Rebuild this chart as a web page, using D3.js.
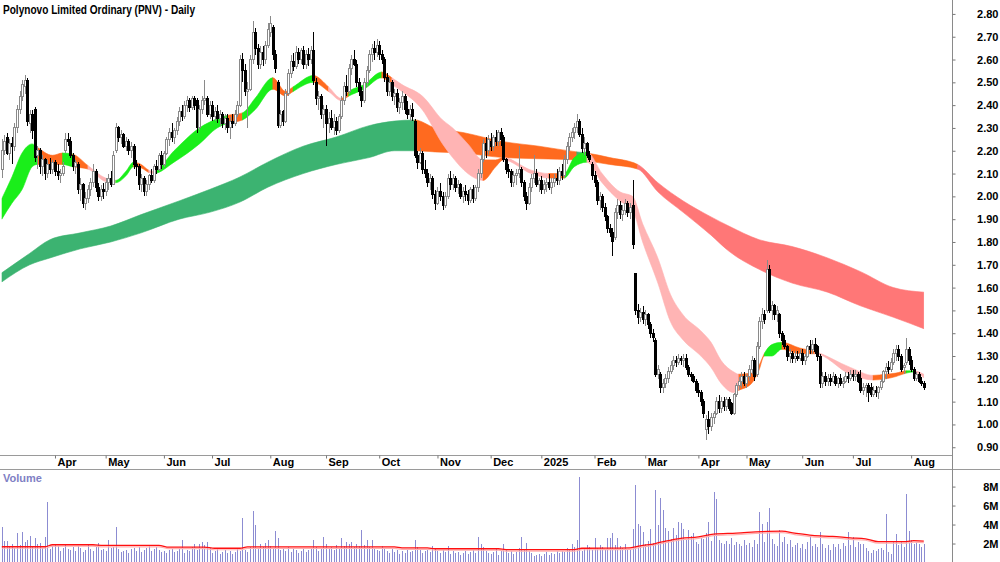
<!DOCTYPE html>
<html><head><meta charset="utf-8">
<script src="https://cdn.jsdelivr.net/npm/d3@7"></script>
<style>html,body{margin:0;padding:0;background:#fff;overflow:hidden}svg{display:block}</style>
</head><body><svg id="c" width="1000" height="562"></svg>
<script>
const chartTitle = "Polynovo Limited Ordinary (PNV) - Daily";
const monthLabels = ["Apr","May","Jun","Jul","Aug","Sep","Oct","Nov","Dec","2025","Feb","Mar","Apr","May","Jun","Jul","Aug"];
const monthStartIdx = [21,41,64,83,106,128,149,172,193,213,234,254,275,294,316,336,359];
const priceTicks = [0.9,1.0,1.1,1.2,1.3,1.4,1.5,1.6,1.7,1.8,1.9,2.0,2.1,2.2,2.3,2.4,2.5,2.6,2.7,2.8];
const volTicks = [2,4,6,8];
const volTickLabels = ["2M","4M","6M","8M"];

// Daily OHLC (trading days 29 Feb 2024 .. 8 Aug 2025)
const openP = [
2.12,2.20,2.26,2.19,2.23,2.22,2.30,2.38,2.44,2.48,2.51,2.32,2.36,2.38,2.18,2.20,2.13,2.16,2.10,2.14,2.12,
2.15,2.11,2.09,2.10,2.20,2.25,2.24,2.18,2.13,2.14,2.03,2.05,1.97,1.99,2.03,2.06,2.11,2.04,2.00,2.03,
2.02,2.06,2.08,2.05,2.20,2.30,2.26,2.27,2.22,2.24,2.20,2.22,2.14,2.13,2.05,2.08,2.02,2.05,2.09,2.07,2.13,2.12,2.18,
2.14,2.19,2.25,2.28,2.26,2.29,2.33,2.37,2.35,2.40,2.42,2.39,2.43,2.42,2.30,2.38,2.42,2.43,2.36,
2.40,2.35,2.37,2.34,2.36,2.32,2.34,2.30,2.33,2.32,2.36,2.40,2.60,2.55,2.46,2.47,2.60,2.72,2.65,2.58,2.63,2.60,2.66,
2.72,2.74,2.62,2.50,2.31,2.37,2.33,2.45,2.54,2.59,2.57,2.63,2.60,2.64,2.58,2.62,2.60,2.64,2.50,2.43,2.44,2.36,
2.38,2.32,2.34,2.30,2.33,2.29,2.35,2.42,2.48,2.46,2.56,2.60,2.58,2.50,2.46,2.42,2.50,2.55,2.62,2.65,2.63,
2.66,2.62,2.60,2.52,2.46,2.50,2.44,2.45,2.39,2.41,2.44,2.38,2.36,2.38,2.33,2.18,2.15,2.19,2.12,2.10,2.06,2.08,2.01,
1.97,2.02,2.00,1.96,2.00,2.08,2.05,2.08,2.04,2.05,2.00,2.02,2.01,1.98,2.03,1.99,2.04,2.10,2.16,2.23,2.20,
2.24,2.22,2.26,2.24,2.28,2.26,2.16,2.12,2.11,2.06,2.09,2.10,2.12,2.06,2.00,1.97,2.04,2.08,2.10,2.05,
2.07,2.03,2.05,2.06,2.04,2.06,2.08,2.07,2.11,2.09,2.16,2.22,2.26,2.28,2.30,2.33,2.27,2.21,2.23,2.18,2.14,
2.09,2.06,1.98,2.00,1.95,1.91,1.86,1.84,1.82,1.93,1.96,1.92,1.94,1.97,1.93,1.96,1.66,1.50,1.47,1.49,
1.46,1.48,1.44,1.40,1.37,1.22,1.22,1.16,1.18,1.20,1.23,1.26,1.28,1.27,1.29,1.28,1.29,1.25,1.22,1.21,1.19,
1.15,1.14,1.10,0.98,1.02,0.99,1.03,1.05,1.10,1.07,1.10,1.08,1.11,1.09,1.05,1.13,1.17,1.19,1.21,
1.18,1.21,1.24,1.28,1.22,1.34,1.45,1.48,1.50,1.68,1.50,1.52,1.48,1.48,1.40,1.37,1.34,1.30,1.31,1.29,1.30,1.29,
1.31,1.28,1.30,1.34,1.33,1.35,1.34,1.30,1.18,1.21,1.19,1.20,1.19,1.21,1.18,1.20,1.18,1.19,1.21,1.20,
1.22,1.21,1.22,1.20,1.15,1.16,1.17,1.16,1.13,1.15,1.14,1.16,1.19,1.23,1.25,1.24,1.27,1.31,1.33,1.30,1.25,1.27,1.33,
1.28,1.24,1.20,1.22,1.19,1.18];
const highP = [
2.25,2.27,2.28,2.25,2.26,2.32,2.40,2.46,2.51,2.53,2.52,2.38,2.38,2.39,2.22,2.21,2.18,2.17,2.16,2.17,2.16,
2.16,2.14,2.12,2.15,2.28,2.28,2.26,2.19,2.16,2.15,2.08,2.06,2.02,2.05,2.08,2.14,2.12,2.06,2.05,2.06,
2.08,2.10,2.11,2.20,2.32,2.31,2.29,2.28,2.26,2.25,2.24,2.23,2.16,2.14,2.10,2.09,2.07,2.10,2.12,2.14,2.16,2.19,2.20,
2.20,2.26,2.30,2.32,2.30,2.35,2.39,2.40,2.42,2.44,2.43,2.44,2.44,2.43,2.40,2.44,2.51,2.44,2.42,
2.42,2.39,2.40,2.38,2.37,2.36,2.36,2.35,2.36,2.38,2.42,2.62,2.63,2.58,2.50,2.62,2.77,2.74,2.67,2.66,2.66,2.68,2.76,
2.79,2.75,2.64,2.51,2.38,2.38,2.47,2.56,2.62,2.63,2.66,2.65,2.65,2.66,2.64,2.65,2.66,2.72,2.52,2.46,2.45,2.40,
2.40,2.37,2.38,2.36,2.35,2.36,2.44,2.50,2.53,2.58,2.62,2.64,2.60,2.52,2.48,2.52,2.57,2.64,2.67,2.68,2.69,
2.68,2.64,2.61,2.54,2.52,2.51,2.47,2.47,2.43,2.46,2.45,2.42,2.40,2.41,2.34,2.20,2.21,2.20,2.16,2.12,2.10,2.09,2.03,
2.04,2.06,2.02,2.02,2.10,2.11,2.10,2.09,2.07,2.06,2.04,2.05,2.03,2.04,2.05,2.05,2.12,2.18,2.25,2.26,2.27,
2.28,2.27,2.29,2.29,2.30,2.27,2.17,2.14,2.12,2.11,2.12,2.22,2.13,2.07,2.02,2.06,2.10,2.18,2.12,2.08,
2.09,2.07,2.08,2.10,2.08,2.10,2.12,2.13,2.14,2.18,2.24,2.28,2.30,2.32,2.36,2.34,2.30,2.26,2.24,2.20,2.15,
2.11,2.07,2.02,2.01,1.97,1.92,1.88,1.86,1.95,1.99,1.98,1.96,1.99,1.98,1.97,2.07,1.66,1.53,1.51,1.52,
1.50,1.49,1.45,1.42,1.38,1.26,1.23,1.20,1.22,1.25,1.28,1.30,1.30,1.31,1.30,1.31,1.31,1.26,1.23,1.22,1.20,
1.18,1.15,1.11,1.04,1.06,1.05,1.06,1.12,1.13,1.12,1.12,1.12,1.12,1.10,1.14,1.18,1.21,1.23,1.23,
1.22,1.26,1.30,1.29,1.36,1.47,1.51,1.50,1.72,1.70,1.54,1.53,1.52,1.49,1.41,1.39,1.35,1.33,1.32,1.32,1.32,1.33,
1.33,1.31,1.35,1.37,1.37,1.38,1.35,1.31,1.23,1.23,1.22,1.22,1.23,1.22,1.21,1.22,1.21,1.23,1.23,1.24,
1.24,1.24,1.23,1.24,1.18,1.18,1.18,1.18,1.17,1.17,1.17,1.20,1.24,1.27,1.28,1.29,1.33,1.35,1.35,1.31,1.27,1.38,1.34,
1.30,1.25,1.23,1.23,1.21,1.19];
const lowP = [
2.08,2.18,2.18,2.16,2.14,2.20,2.28,2.36,2.42,2.45,2.31,2.28,2.25,2.15,2.12,2.10,2.09,2.07,2.08,2.10,2.10,
2.09,2.07,2.06,2.09,2.19,2.22,2.17,2.11,2.10,2.01,1.98,1.95,1.94,1.97,2.00,2.04,2.02,1.98,1.98,1.99,
2.00,2.03,2.04,2.05,2.19,2.24,2.23,2.21,2.20,2.18,2.17,2.12,2.09,2.03,2.02,2.00,2.00,2.03,2.06,2.06,2.10,2.11,2.12,
2.13,2.18,2.22,2.24,2.23,2.27,2.31,2.33,2.34,2.37,2.37,2.38,2.38,2.28,2.29,2.36,2.40,2.35,2.34,
2.33,2.33,2.32,2.31,2.30,2.29,2.28,2.25,2.30,2.31,2.35,2.39,2.50,2.44,2.30,2.46,2.58,2.62,2.56,2.56,2.57,2.58,2.65,
2.70,2.60,2.54,2.30,2.30,2.31,2.32,2.44,2.52,2.55,2.56,2.58,2.58,2.56,2.56,2.57,2.58,2.49,2.40,2.38,2.34,2.30,
2.22,2.28,2.29,2.27,2.27,2.28,2.34,2.40,2.44,2.45,2.53,2.57,2.48,2.44,2.39,2.41,2.48,2.54,2.59,2.60,2.61,
2.60,2.58,2.50,2.44,2.44,2.42,2.40,2.37,2.36,2.38,2.36,2.34,2.33,2.33,2.17,2.12,2.14,2.10,2.08,2.04,2.03,1.99,1.94,
1.96,1.98,1.94,1.95,1.99,2.03,2.03,2.02,2.01,1.99,1.97,1.98,1.96,1.97,1.97,1.98,2.02,2.08,2.15,2.17,2.18,
2.20,2.20,2.22,2.22,2.22,2.15,2.10,2.08,2.04,2.04,2.05,2.08,2.04,1.98,1.94,1.96,2.02,2.06,2.04,2.02,
2.01,2.01,2.02,2.03,2.01,2.04,2.05,2.05,2.07,2.08,2.14,2.20,2.24,2.25,2.28,2.26,2.19,2.18,2.17,2.15,2.07,
2.04,1.96,1.94,1.93,1.89,1.84,1.82,1.74,1.81,1.90,1.90,1.89,1.92,1.91,1.90,1.77,1.48,1.44,1.45,1.44,
1.43,1.42,1.38,1.36,1.21,1.20,1.14,1.14,1.16,1.18,1.22,1.24,1.25,1.26,1.26,1.25,1.24,1.21,1.19,1.18,1.14,
1.12,1.08,1.03,0.93,0.96,0.97,1.00,1.04,1.05,1.05,1.06,1.06,1.06,1.04,1.04,1.12,1.15,1.16,1.17,
1.16,1.19,1.22,1.19,1.21,1.33,1.42,1.44,1.49,1.49,1.46,1.46,1.45,1.38,1.35,1.33,1.28,1.27,1.27,1.27,1.28,1.28,
1.26,1.26,1.29,1.31,1.31,1.31,1.28,1.16,1.16,1.17,1.17,1.17,1.18,1.17,1.16,1.17,1.16,1.18,1.18,1.19,
1.19,1.19,1.18,1.14,1.13,1.12,1.10,1.12,1.12,1.12,1.11,1.15,1.18,1.20,1.22,1.23,1.26,1.28,1.28,1.23,1.22,1.26,1.26,
1.23,1.19,1.19,1.18,1.17,1.15];
const closeP = [
2.20,2.24,2.19,2.23,2.22,2.30,2.38,2.44,2.49,2.51,2.33,2.36,2.29,2.17,2.20,2.13,2.16,2.10,2.14,2.12,2.15,
2.11,2.09,2.10,2.13,2.25,2.24,2.18,2.13,2.15,2.03,2.05,1.97,1.99,2.03,2.06,2.11,2.04,2.00,2.03,2.02,
2.06,2.08,2.05,2.18,2.30,2.26,2.27,2.22,2.24,2.20,2.22,2.14,2.13,2.05,2.08,2.02,2.05,2.09,2.07,2.13,2.12,2.18,2.14,
2.19,2.25,2.28,2.26,2.29,2.33,2.37,2.35,2.40,2.42,2.39,2.43,2.40,2.30,2.38,2.42,2.43,2.36,2.40,
2.35,2.37,2.34,2.36,2.32,2.34,2.30,2.33,2.32,2.36,2.40,2.60,2.55,2.46,2.47,2.60,2.72,2.65,2.58,2.63,2.60,2.66,2.73,
2.76,2.62,2.56,2.31,2.36,2.33,2.45,2.54,2.59,2.57,2.63,2.60,2.64,2.58,2.62,2.60,2.64,2.51,2.43,2.44,2.36,2.38,
2.32,2.34,2.30,2.33,2.29,2.35,2.42,2.48,2.46,2.56,2.60,2.58,2.50,2.46,2.42,2.50,2.55,2.62,2.65,2.63,2.66,
2.62,2.60,2.52,2.46,2.50,2.44,2.45,2.39,2.41,2.44,2.38,2.36,2.38,2.35,2.18,2.15,2.19,2.12,2.10,2.06,2.08,2.01,1.97,
2.02,2.00,1.96,2.00,2.08,2.05,2.08,2.04,2.05,2.00,2.02,2.01,1.98,2.03,1.99,2.04,2.10,2.16,2.23,2.20,2.25,
2.22,2.26,2.24,2.28,2.25,2.16,2.12,2.11,2.06,2.09,2.10,2.12,2.06,2.00,1.97,2.04,2.08,2.10,2.05,2.07,
2.03,2.05,2.06,2.04,2.06,2.08,2.07,2.11,2.09,2.16,2.22,2.26,2.28,2.30,2.33,2.27,2.21,2.23,2.18,2.16,2.09,
2.06,1.98,2.00,1.95,1.91,1.86,1.84,1.80,1.93,1.96,1.92,1.94,1.97,1.93,1.95,1.79,1.50,1.47,1.49,1.46,
1.48,1.44,1.40,1.38,1.22,1.24,1.16,1.18,1.20,1.23,1.26,1.28,1.27,1.29,1.28,1.29,1.25,1.22,1.21,1.19,1.15,
1.14,1.10,1.05,1.02,0.99,1.03,1.05,1.10,1.07,1.10,1.08,1.11,1.07,1.05,1.13,1.17,1.19,1.21,1.18,
1.21,1.24,1.28,1.21,1.34,1.45,1.48,1.46,1.68,1.50,1.52,1.48,1.50,1.40,1.37,1.34,1.30,1.31,1.29,1.30,1.29,1.31,
1.28,1.30,1.34,1.33,1.35,1.32,1.30,1.18,1.21,1.19,1.20,1.19,1.21,1.18,1.20,1.18,1.19,1.21,1.20,1.22,
1.21,1.22,1.19,1.15,1.16,1.17,1.14,1.13,1.15,1.14,1.16,1.19,1.23,1.25,1.24,1.27,1.31,1.33,1.30,1.24,1.26,1.33,1.28,
1.24,1.20,1.22,1.19,1.18,1.16];
// Volume in millions
const volumeM = [
3.7,2.3,2.3,1.6,1.9,1.5,3.1,1.8,3.2,2.2,2.4,2.8,1.7,2.6,2.0,2.1,1.5,2.7,6.4,1.4,1.7,
1.8,1.7,1.2,1.5,1.9,1.4,1.3,1.6,1.2,1.7,1.5,1.1,1.3,2.0,1.4,1.2,1.6,2.1,1.3,1.4,
1.2,2.4,1.5,1.6,3.7,1.4,1.1,1.2,1.3,1.0,1.4,1.5,1.2,1.6,1.1,1.3,1.5,1.7,1.2,1.4,1.6,1.3,1.1,
1.2,1.0,1.3,1.5,1.1,1.2,1.4,2.4,1.0,1.3,1.2,1.6,1.9,1.3,2.0,2.2,1.8,2.2,1.5,
1.0,1.2,1.4,0.9,1.1,1.3,1.0,1.2,0.9,1.1,1.4,1.2,4.7,1.3,1.1,1.6,5.4,4.0,1.5,2.0,1.6,2.1,2.4,
1.7,1.5,3.3,2.6,1.3,1.5,1.2,1.6,1.1,1.4,1.3,1.0,1.2,1.5,1.1,1.3,1.4,2.4,1.6,1.2,1.5,2.7,
1.9,1.4,1.6,1.3,1.8,1.5,2.6,1.7,2.2,1.9,2.2,1.6,2.0,1.7,3.4,1.8,2.4,1.6,2.4,1.5,1.3,
1.2,1.7,1.4,1.2,1.0,1.5,1.1,1.3,0.9,1.2,1.0,1.4,1.1,1.2,2.4,1.6,1.3,1.0,1.2,1.4,1.1,1.7,1.5,
1.2,1.0,1.3,1.1,1.7,0.9,1.2,1.0,1.1,0.8,1.0,1.2,0.9,1.1,1.3,1.0,2.7,1.9,1.6,1.2,1.0,
0.9,1.1,1.4,0.8,1.2,1.9,1.3,1.0,1.2,0.9,1.1,1.5,2.7,1.4,2.1,1.2,1.0,0.7,0.8,0.9,
0.7,0.9,1.1,0.8,1.0,0.9,1.2,1.0,1.2,1.1,1.5,1.3,2.0,1.6,2.4,9.0,1.2,1.4,1.8,1.6,1.3,
2.6,1.5,1.8,1.6,1.4,2.6,2.6,3.1,1.8,2.6,1.7,1.5,1.9,1.4,1.3,3.5,8.2,4.1,3.8,3.2,
1.9,2.3,3.5,2.1,7.6,4.0,6.8,5.5,3.6,3.3,2.5,3.6,2.9,4.3,4.2,3.5,2.4,3.4,2.8,3.1,2.2,
2.0,2.6,2.5,3.1,4.3,2.3,7.4,6.7,2.4,2.1,1.9,2.3,2.0,2.6,1.8,2.2,2.0,1.7,2.4,
1.8,2.1,1.6,2.4,2.0,5.3,4.1,2.2,4.3,5.7,2.5,2.0,1.7,3.4,2.2,2.7,1.9,2.4,1.6,1.8,2.1,1.5,
1.9,1.4,2.2,2.8,1.7,2.0,1.6,3.2,2.0,1.5,1.8,1.3,2.0,1.6,1.9,1.4,2.1,1.7,3.2,1.8,
2.7,1.6,2.2,1.9,2.0,1.5,1.2,1.0,1.3,1.2,1.4,1.5,1.3,5.1,1.1,0.9,2.2,3.0,1.8,2.3,1.6,7.2,3.3,
2.4,2.0,2.2,1.9,1.6,2.0];
// Volume moving average (millions), key bars
const volMAIdx = [0,17,20,36,40,62,66,80,84,94,97,155,158,168,171,196,199,226,229,248,252,258,262,268,275,281,290,300,308,313,320,328,335,341,346,357,360,364];
const volMAVal = [1.66,1.66,1.87,1.87,1.80,1.80,1.62,1.62,1.50,1.50,1.65,1.65,1.55,1.55,1.45,1.45,1.35,1.35,1.50,1.55,1.75,2.0,2.25,2.55,2.7,3.0,3.1,3.25,3.3,3.1,2.85,2.75,2.6,2.5,2.2,2.2,2.3,2.25];

// Long-term MA ribbon (key bars), colour code of the interval that starts at each key
const longIdx = [0,11,19,31,43,55,70,82,94,105,119,132,145,155,163,171,182,198,212,227,231,240,251,259,269,280,287,299,312,326,339,352,364];
const longTop = [1.665,1.75,1.81,1.84,1.87,1.92,1.98,2.03,2.085,2.15,2.22,2.26,2.31,2.33,2.335,2.30,2.28,2.24,2.22,2.195,2.19,2.17,2.14,2.06,1.98,1.91,1.87,1.81,1.78,1.73,1.67,1.60,1.58];
const longBot = [1.625,1.70,1.73,1.77,1.80,1.84,1.90,1.93,1.975,2.04,2.10,2.14,2.17,2.20,2.20,2.195,2.19,2.17,2.165,2.16,2.155,2.14,2.12,2.02,1.93,1.83,1.76,1.68,1.62,1.58,1.52,1.47,1.42];
const longCol = ["g","g","g","g","g","g","g","g","g","g","g","g","g","g","o","o","o","o","o","g","o","o","r","r","r","r","r","r","r","r","r","r","r"];
// Short-term MA ribbon
const shortIdx = [0,4,8,12,14,20,24,28,34,41,45,49,52,55,58,60,68,78,85,89,95,100,107,112,115,123,129,134,137,143,150,154,158,166,174,178,184,190,195,198,209,216,222,226,231,237,244,249,253,259,264,269,276,280,284,289,291,296,299,301,304,308,315,321,335,344,349,353,357,360,364];
const shortTop = [1.99,2.085,2.19,2.23,2.215,2.18,2.19,2.185,2.135,2.08,2.07,2.11,2.15,2.14,2.115,2.11,2.20,2.30,2.34,2.355,2.366,2.43,2.52,2.46,2.48,2.53,2.48,2.43,2.46,2.49,2.545,2.52,2.49,2.44,2.335,2.30,2.23,2.16,2.16,2.17,2.115,2.10,2.10,2.17,2.195,2.10,2.02,2.00,1.88,1.73,1.57,1.48,1.41,1.36,1.28,1.23,1.22,1.225,1.26,1.31,1.35,1.36,1.335,1.32,1.25,1.215,1.22,1.225,1.235,1.235,1.22];
const shortBot = [1.90,1.97,2.03,2.13,2.14,2.14,2.14,2.13,2.12,2.065,2.06,2.09,2.13,2.125,2.105,2.10,2.15,2.23,2.30,2.32,2.335,2.38,2.47,2.44,2.46,2.50,2.46,2.42,2.44,2.47,2.52,2.49,2.46,2.38,2.23,2.17,2.10,2.07,2.13,2.16,2.10,2.08,2.08,2.13,2.15,2.06,1.98,1.94,1.80,1.62,1.45,1.37,1.30,1.25,1.18,1.14,1.15,1.18,1.24,1.30,1.30,1.33,1.31,1.31,1.22,1.195,1.20,1.21,1.225,1.23,1.205];
const shortCol = ["G","G","G","G","o","o","G","o","p","p","G","G","o","o","p","G","G","G","G","o","G","G","o","o","G","o","p","o","G","G","o","p","p","p","p","p","p","o","o","p","p","o","G","G","p","p","p","p","p","p","p","p","p","p","p","p","o","o","o","G","G","o","o","p","p","o","o","o","G","p","p"];

const palette = {g:"#3cb371", o:"#ff6a1f", r:"#ff7777", G:"#1aee1a", p:"#ffb4b4"};

const svg = d3.select("#c");
const N = closeP.length;
const x = d3.scaleLinear().domain([0, 364]).range([1.8, 923.8]);
const y = d3.scaleLinear().domain([0.866, 2.861]).range([455, 0]);
const yv = d3.scaleLinear().domain([0, 9.8]).range([562.5, 469.5]);
const defs = svg.append("defs");
let clipId = 0;

function ribbon(keys, tops, bots, cols) {
  const pts = keys.map((k, j) => ({i: k, t: tops[j], b: bots[j]}));
  const area = d3.area().x(d => x(d.i)).y0(d => y(d.b)).y1(d => y(d.t)).curve(d3.curveMonotoneX);
  const dStr = area(pts);
  const g = svg.append("g");
  let s = 0;
  for (let j = 1; j < pts.length; j++) {
    if (j === pts.length - 1 || cols[j] !== cols[s]) {
      const id = "cl" + (clipId++);
      const x0 = x(keys[s]) - 0.3, x1 = x(keys[j]) + 0.3;
      defs.append("clipPath").attr("id", id).append("rect")
        .attr("x", x0).attr("y", 0).attr("width", x1 - x0).attr("height", 455);
      g.append("path").attr("d", dStr).attr("fill", palette[cols[s]])
        .attr("stroke", palette[cols[s]]).attr("stroke-width", 0.6)
        .attr("clip-path", `url(#${id})`);
      s = j;
    }
  }
}
ribbon(longIdx, longTop, longBot, longCol);
ribbon(shortIdx, shortTop, shortBot, shortCol);

// candles
const bars = d3.range(N).map(i => ({i, o: openP[i], h: Math.max(highP[i], openP[i], closeP[i]), l: Math.min(lowP[i], openP[i], closeP[i]), c: closeP[i]}));
const cg = svg.append("g").attr("shape-rendering", "crispEdges");
cg.selectAll("line").data(bars).join("line")
  .attr("x1", d => Math.round(x(d.i)) + 0.5).attr("x2", d => Math.round(x(d.i)) + 0.5)
  .attr("y1", d => y(d.h)).attr("y2", d => y(d.l))
  .attr("stroke", d => d.c >= d.o ? "#8a8a8a" : "#000").attr("stroke-width", 1);
cg.selectAll("rect").data(bars).join("rect")
  .attr("x", d => Math.round(x(d.i)) - 0.5).attr("width", 2)
  .attr("y", d => y(Math.max(d.o, d.c)))
  .attr("height", d => Math.max(0.8, y(Math.min(d.o, d.c)) - y(Math.max(d.o, d.c))))
  .attr("fill", d => d.c >= d.o ? "#fff" : "#000")
  .attr("stroke", d => d.c >= d.o ? "#8a8a8a" : "#000").attr("stroke-width", 1);

// frame lines
svg.append("line").attr("x1", 0).attr("x2", 952).attr("y1", 455.5).attr("y2", 455.5).attr("stroke", "#9a9a9a");
svg.append("line").attr("x1", 0).attr("x2", 1000).attr("y1", 469.5).attr("y2", 469.5).attr("stroke", "#9a9a9a");
svg.append("line").attr("x1", 952.5).attr("x2", 952.5).attr("y1", 0).attr("y2", 562).attr("stroke", "#8a8a8a");

// price axis
const pa = svg.append("g").attr("transform", "translate(952.5,0)")
  .call(d3.axisRight(y).tickValues(priceTicks).tickSize(3).tickFormat(d3.format(".2f")));
pa.select(".domain").remove();
pa.selectAll(".tick line").attr("stroke", "#777");
pa.selectAll(".tick text").attr("x", 46).attr("text-anchor", "end")
  .attr("font-family", "Arial, 'Liberation Sans', sans-serif").attr("font-weight", "bold").attr("font-size", 11).attr("fill", "#000");

// volume
const vg = svg.append("g").attr("shape-rendering", "crispEdges");
vg.selectAll("line").data(volumeM).join("line")
  .attr("x1", (d, i) => Math.round(x(i)) + 0.5).attr("x2", (d, i) => Math.round(x(i)) + 0.5)
  .attr("y1", yv(0)).attr("y2", d => yv(d))
  .attr("stroke", "#8c8cd2").attr("stroke-width", 1);
const vmaPts = volMAIdx.map((k, j) => [x(k), yv(volMAVal[j])]);
const vline = d3.line().curve(d3.curveMonotoneX);
svg.append("path").attr("d", vline(vmaPts.map(p => [p[0], p[1] + 1.5]))).attr("fill", "none").attr("stroke", "#ffb0b0").attr("stroke-width", 1.2);
svg.append("path").attr("d", vline(vmaPts)).attr("fill", "none").attr("stroke", "#ff1010").attr("stroke-width", 1.3);

const va = svg.append("g").attr("transform", "translate(952.5,0)")
  .call(d3.axisRight(yv).tickValues(volTicks).tickSize(3).tickFormat((d, i) => volTickLabels[i]));
va.select(".domain").remove();
va.selectAll(".tick line").attr("stroke", "#777");
va.selectAll(".tick text").attr("x", 46).attr("text-anchor", "end")
  .attr("font-family", "Arial, 'Liberation Sans', sans-serif").attr("font-weight", "bold").attr("font-size", 11).attr("fill", "#000");

// date axis
const da = svg.append("g").attr("transform", "translate(0,455.5)")
  .call(d3.axisBottom(x).tickValues(monthStartIdx).tickSize(3).tickFormat((d, i) => monthLabels[i]));
da.select(".domain").remove();
da.selectAll(".tick line").attr("stroke", "#777");
da.selectAll(".tick text").attr("x", 2).attr("y", 10.5).attr("dy", 0).attr("text-anchor", "start")
  .attr("font-family", "Arial, 'Liberation Sans', sans-serif").attr("font-weight", "bold").attr("font-size", 11).attr("fill", "#000");

// titles
svg.append("text").attr("x", 3).attr("y", 14).text(chartTitle)
  .attr("font-family", "Arial, 'Liberation Sans', sans-serif").attr("font-weight", "bold").attr("font-size", 13)
  .attr("textLength", 192).attr("lengthAdjust", "spacingAndGlyphs").attr("fill", "#000");
svg.append("text").attr("x", 3).attr("y", 482).text("Volume")
  .attr("font-family", "Arial, 'Liberation Sans', sans-serif").attr("font-weight", "bold").attr("font-size", 11)
  .attr("fill", "#8080c4");
</script></body></html>
